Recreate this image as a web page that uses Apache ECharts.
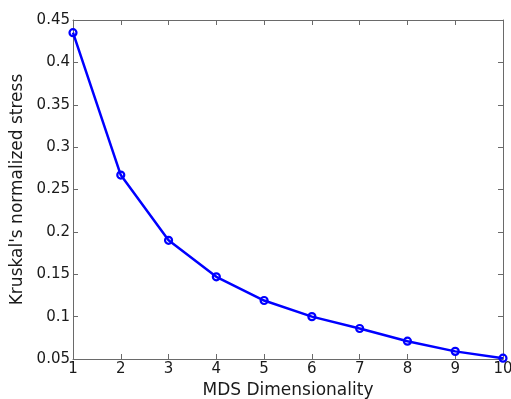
<!DOCTYPE html>
<html>
<head>
<meta charset="utf-8">
<script src="https://cdn.jsdelivr.net/npm/echarts@6/dist/echarts.min.js"></script>
<style>
  html, body { margin: 0; padding: 0; background: #fff; }
  #chart { width: 511px; height: 399px; }
</style>
</head>
<body>
<div id="chart"></div>
<script>
// MDS dimensionality vs. Kruskal's normalized stress
const dimensions = [1, 2, 3, 4, 5, 6, 7, 8, 9, 10];
const stress = [0.435, 0.267, 0.190, 0.147, 0.119, 0.100, 0.086, 0.071, 0.059, 0.051];
const yTicks = [0.05, 0.1, 0.15, 0.2, 0.25, 0.3, 0.35, 0.4, 0.45];

const font = '"DejaVu Sans", "Liberation Sans", Arial, sans-serif';
const axisColor = '#6a6a6a';
const textColor = '#1a1a1a';

const chart = echarts.init(document.getElementById('chart'), null, { renderer: 'canvas' });

// shared styling for the boxed frame: gray lines, inward ticks
const boxAxis = {
  axisLine: { show: true, lineStyle: { color: axisColor, width: 1 } },
  axisTick: { show: true, inside: true, length: 5, lineStyle: { color: axisColor } },
  splitLine: { show: false }
};

chart.setOption({
  animation: false,
  grid: {
    left: 73, right: 8, top: 20, bottom: 40,
    containLabel: false,
    outerBoundsMode: 'none'
  },
  xAxis: [
    Object.assign({
      type: 'value', min: 1, max: 10, interval: 1, position: 'bottom',
      name: 'MDS Dimensionality', nameLocation: 'middle', nameGap: 22,
      nameTextStyle: { fontFamily: font, fontSize: 17, color: textColor },
      axisLabel: { fontFamily: font, fontSize: 15, color: textColor, margin: 3 }
    }, boxAxis),
    Object.assign({
      type: 'value', min: 1, max: 10, interval: 1, position: 'top',
      axisLabel: { show: false }
    }, boxAxis)
  ],
  yAxis: [
    Object.assign({
      type: 'value', min: yTicks[0], max: yTicks[yTicks.length - 1], interval: 0.05, position: 'left',
      name: "Kruskal's normalized stress", nameLocation: 'middle', nameGap: 46,
      nameTextStyle: { fontFamily: font, fontSize: 17, color: textColor },
      axisLabel: {
        fontFamily: font, fontSize: 15, color: textColor, margin: 3,
        formatter: v => String(parseFloat(v.toFixed(2)))
      }
    }, boxAxis),
    Object.assign({
      type: 'value', min: yTicks[0], max: yTicks[yTicks.length - 1], interval: 0.05, position: 'right',
      axisLabel: { show: false }
    }, boxAxis)
  ],
  series: [{
    type: 'line',
    data: dimensions.map((d, i) => [d, stress[i]]),
    symbol: 'circle',
    symbolSize: 7,
    showAllSymbol: true,
    clip: false,
    lineStyle: { color: '#0000ff', width: 2.5 },
    itemStyle: { color: 'rgba(0,0,0,0)', borderColor: '#0000ff', borderWidth: 2.2 }
  }]
});
</script>
</body>
</html>
